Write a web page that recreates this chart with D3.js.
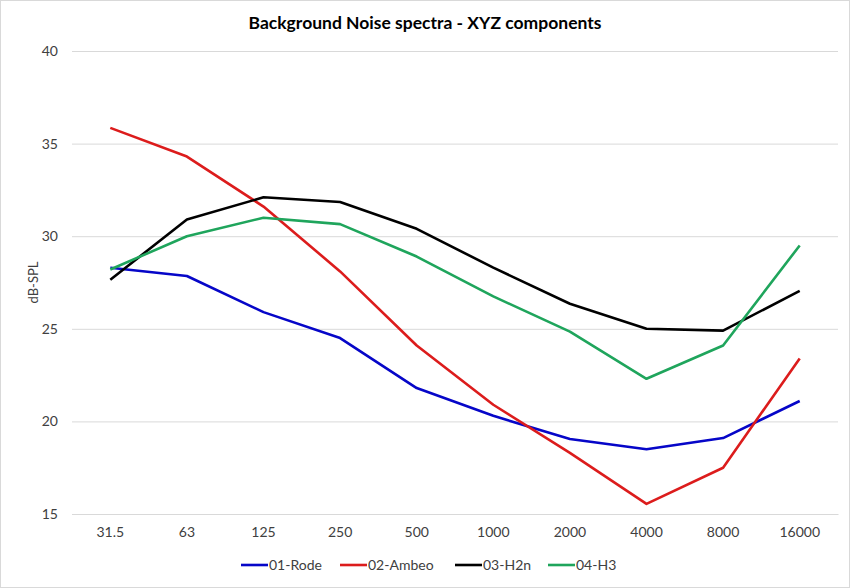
<!DOCTYPE html>
<html><head><meta charset="utf-8">
<script src="https://cdn.jsdelivr.net/npm/d3@7"></script>
<style>body{margin:0;background:#fff}svg{display:block}text{font-family:Lato,"Open Sans",sans-serif}</style>
</head><body><svg id="c" width="850" height="588"></svg>
<script>
const categories = ["31.5","63","125","250","500","1000","2000","4000","8000","16000"];
const rode  = [28.3,27.85,25.9,24.5,21.8,20.3,19.05,18.5,19.1,21.1];
const ambeo = [35.85,34.3,31.6,28.1,24.1,20.9,18.3,15.55,17.5,23.4];
const h2n   = [27.65,30.9,32.1,31.85,30.4,28.3,26.35,25.0,24.9,27.05];
const h3    = [28.2,30.0,31.0,30.65,28.9,26.75,24.85,22.3,24.1,29.5];
const yTicks = [15,20,25,30,35,40];
const seriesNames = ["01-Rode","02-Ambeo","03-H2n","04-H3"];
const seriesColors = ["#0606c8","#dc1c1c","#000000","#1fa55c"];
const series = [rode, ambeo, h2n, h3];

const svg = d3.select("#c");
svg.append("rect").attr("x",0.5).attr("y",0.5).attr("width",849).attr("height",587).attr("fill","#fff").attr("stroke","#d9d9d9");
const L=72,R=838,T=51,B=514;
const x = d3.scaleBand().domain(categories).range([L,R]);
const y = d3.scaleLinear().domain([15,40]).range([B,T]);

svg.append("text").attr("x",425).attr("y",29).attr("text-anchor","middle").attr("font-size",17.5).attr("font-weight","bold").attr("fill","#000").text("Background Noise spectra - XYZ components");

const gy = svg.append("g").attr("transform",`translate(${L},0)`).call(d3.axisLeft(y).tickValues(yTicks).tickSize(-(R-L)).tickPadding(14));
gy.select(".domain").remove();
gy.selectAll("line").attr("stroke","#d9d9d9");
gy.selectAll("text").attr("font-size",14).attr("fill","#404040").style("font-family","Lato,sans-serif");

const gx = svg.append("g").attr("transform",`translate(0,${B})`).call(d3.axisBottom(x).tickSize(0).tickPadding(13));
gx.select(".domain").attr("stroke","#d9d9d9");
gx.selectAll("text").attr("font-size",14).attr("fill","#404040").style("font-family","Lato,sans-serif");

svg.append("text").attr("transform",`translate(38,${(T+B)/2}) rotate(-90)`).attr("text-anchor","middle").attr("font-size",13).attr("fill","#404040").text("dB-SPL");

const line = d3.line().x((d,i)=>x(categories[i])+x.bandwidth()/2).y(d=>y(d));
series.forEach((s,i)=>{
  svg.append("path").datum(s).attr("d",line).attr("fill","none").attr("stroke",seriesColors[i]).attr("stroke-width",2.6).attr("stroke-linejoin","round");
});

const legX=[241,340,455,548];
const lg = svg.append("g");
seriesNames.forEach((n,i)=>{
  lg.append("line").attr("x1",legX[i]).attr("x2",legX[i]+27).attr("y1",565).attr("y2",565).attr("stroke",seriesColors[i]).attr("stroke-width",2.6);
  lg.append("text").attr("x",legX[i]+28).attr("y",570).attr("font-size",14).attr("fill","#404040").text(n);
});
</script></body></html>
